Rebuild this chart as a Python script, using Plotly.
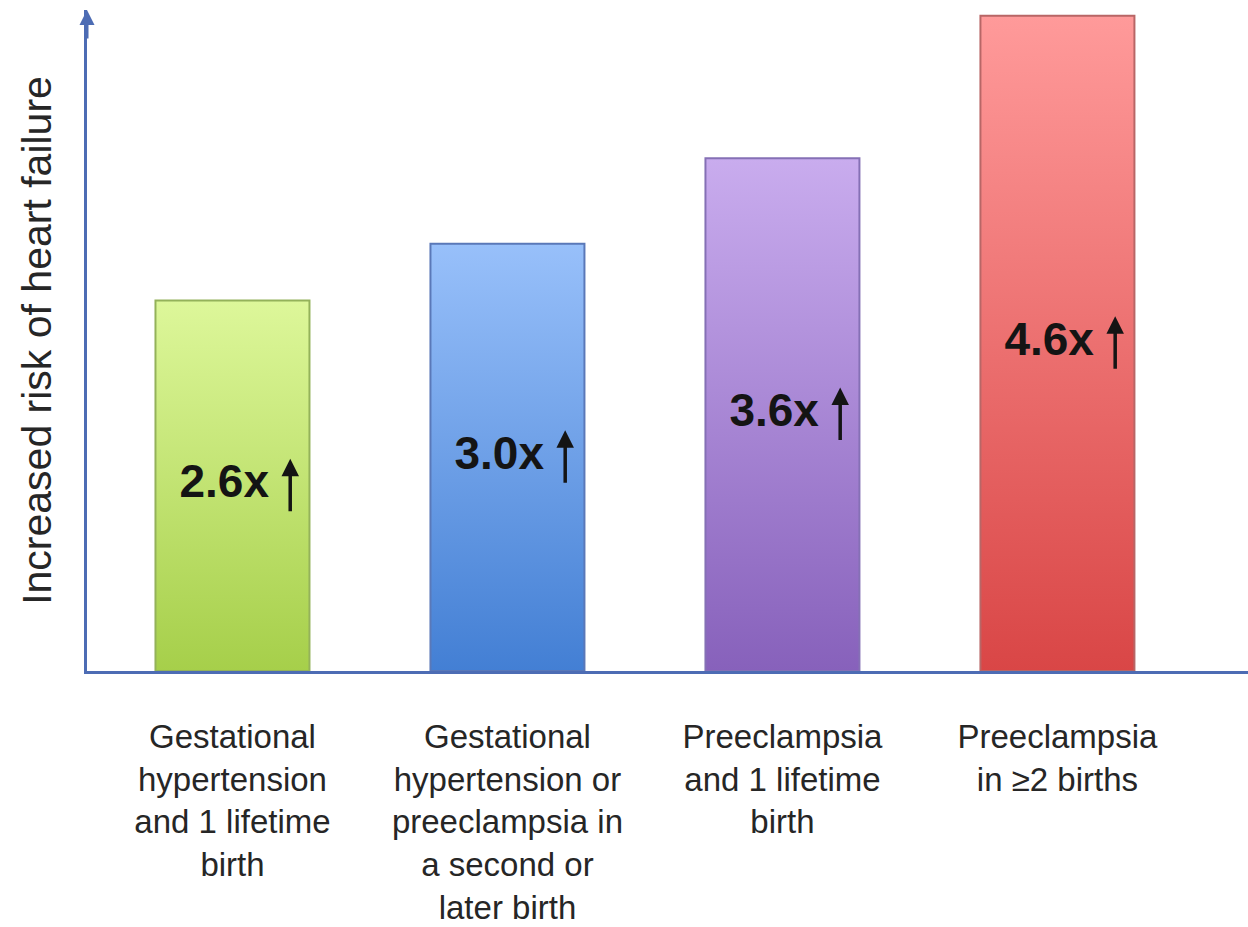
import plotly.graph_objects as go

# Heart-failure risk multipliers by pregnancy history
categories = [
    "Gestational<br>hypertension<br>and 1 lifetime<br>birth",
    "Gestational<br>hypertension or<br>preeclampsia in<br>a second or<br>later birth",
    "Preeclampsia<br>and 1 lifetime<br>birth",
    "Preeclampsia<br>in ≥2 births",
]
risk_ratio = [2.6, 3.0, 3.6, 4.6]

# Gradient colours per bar (bottom -> top) and outline colours
bottom_colors = ["#a6cf4a", "#437fd4", "#8761bb", "#d94646"]
top_colors = ["#ddf79a", "#98c0fa", "#c9acee", "#ff9a9a"]
edge_colors = ["#94b25a", "#5a78b8", "#8570b5", "#b86666"]

axis_color = "#4d6cb4"
text_color = "#262626"
font_family = "Liberation Sans, Arial, sans-serif"
bar_half = 0.28

fig = go.Figure()

for i, (v, c0, c1, ec) in enumerate(zip(risk_ratio, bottom_colors, top_colors, edge_colors)):
    xs = [i - bar_half, i - bar_half, i + bar_half, i + bar_half, i - bar_half]
    ys = [0, v, v, 0, 0]
    fig.add_trace(go.Scatter(
        x=xs, y=ys, mode="lines", fill="toself",
        fillgradient=dict(type="vertical", colorscale=[[0, c0], [1, c1]]),
        line=dict(color=ec, width=2),
        hoverinfo="skip", showlegend=False,
    ))

# Value labels in the middle of each bar
fig.add_trace(go.Scatter(
    x=[i - 0.03 for i in range(len(risk_ratio))],
    y=[v / 2 for v in risk_ratio],
    mode="text",
    text=[f"{v:.1f}x" for v in risk_ratio],
    textposition="middle center",
    textfont=dict(family=font_family, size=46, color="#141414", weight=700),
    hoverinfo="skip", showlegend=False,
))

# Upward arrow beside each value label
for i, v in enumerate(risk_ratio):
    fig.add_annotation(
        x=i + 0.21, y=v / 2, xref="x", yref="y",
        ax=0, ay=54, axref="pixel", ayref="pixel",
        yshift=27,
        showarrow=True, arrowhead=2, arrowsize=1, arrowwidth=3.5,
        arrowcolor="#141414", text="",
    )

fig.update_layout(
    width=1248, height=927,
    margin=dict(l=87, r=0, t=10, b=256),
    paper_bgcolor="white", plot_bgcolor="white",
    font=dict(family=font_family, color=text_color),
    xaxis=dict(
        range=[-0.529, 3.693],
        tickmode="array",
        tickvals=list(range(len(categories))),
        ticktext=categories,
        ticks="", showgrid=False, zeroline=False,
        showline=True, linecolor=axis_color, linewidth=3,
        tickfont=dict(size=33, color=text_color),
        ticklabelstandoff=34,
        fixedrange=True,
    ),
    yaxis=dict(
        range=[0, 4.64],
        showticklabels=False, ticks="", showgrid=False, zeroline=False,
        showline=True, linecolor=axis_color, linewidth=3,
        title=dict(text="Increased risk of heart failure",
                   font=dict(size=41, color=text_color), standoff=20),
        fixedrange=True,
    ),
)

# Arrowhead at the top of the value axis
fig.add_annotation(
    x=0, y=1.0, xref="paper", yref="paper",
    ax=0, ay=30, axref="pixel", ayref="pixel",
    showarrow=True, arrowhead=2, arrowsize=1, arrowwidth=3,
    arrowcolor=axis_color, text="",
)

fig.write_html("out.html")
